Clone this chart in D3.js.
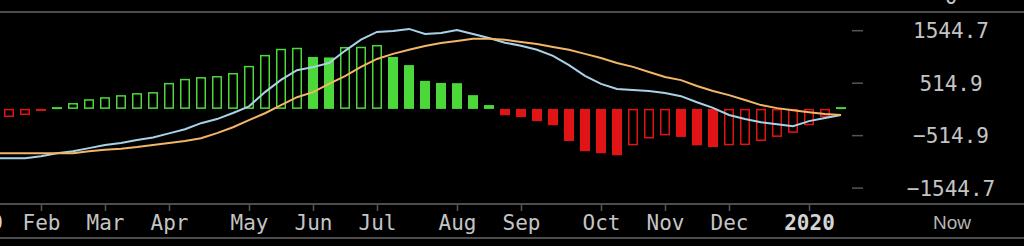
<!DOCTYPE html>
<html>
<head>
<meta charset="utf-8">
<script src="https://cdn.jsdelivr.net/npm/d3@7"></script>
<style>
  html, body { margin: 0; padding: 0; background: #000; }
  svg { display: block; }
</style>
</head>
<body>
<svg id="chart" width="1024" height="246"></svg>
<script>
// weekly bars (Friday closes), Jan 2019 -> Jan 2020
const firstWeek = new Date(2019, 0, 11);
const lastWeek = new Date(2020, 0, 17);

// histogram, one value per week
const histValues = [-200, -160, -120, -40, 35, 115, 190, 230, 270, 310, 330, 510, 590, 625, 645, 705,
  845, 1060, 1180, 1200, 1020, 1010, 1215, 1220, 1255, 1020, 860, 550, 510, 505, 270, 75,
  -125, -160, -240, -320, -630, -830, -870, -910, -715, -580, -520, -550, -715, -750, -715,
  -710, -630, -550, -470, -320, -160, 35];

// macd line (blue)
const macdValues = [-970, -970, -970, -930, -870, -830, -770, -710, -670, -610, -560, -480, -400,
  -280, -200, -80, 50, 330, 570, 760, 820, 900, 1140, 1360, 1510, 1530, 1570, 1470, 1490, 1550,
  1470, 1390, 1300, 1240, 1160, 1040, 860, 650, 490, 390, 370, 350, 310, 250, 130, 20, -120,
  -200, -260, -300, -340, -240, -180, -120];

// signal line (orange)
const signalValues = [-870, -870, -870, -870, -870, -870, -830, -800, -780, -750, -710, -670, -630,
  -575, -475, -360, -220, -85, 75, 230, 330, 490, 645, 825, 980, 1080, 1160, 1235, 1295, 1335,
  1375, 1375, 1355, 1315, 1275, 1215, 1160, 1080, 1000, 900, 825, 725, 625, 565, 450, 350, 270,
  175, 75, 15, -25, -65, -100, -120];

const yTickValues = [1544.7, 514.9, -514.9, -1544.7];
const topLabel = '0';
const nowLabel = 'Now';

const GREEN = '#4cd83a';
const RED = '#e01414';
const BLUE = '#a9d2e8';
const ORANGE = '#f2b666';
const GRID = '#4d4d4d';
const TEXT = '#c4c4c4';
const MONO = '"DejaVu Sans Mono", monospace';

let svg = d3.select('#chart');

let weeks = d3.timeFriday.range(firstWeek, d3.timeDay.offset(lastWeek, 1));
let data = weeks.map((d, i) => ({
  date: d,
  hist: histValues[i],
  macd: macdValues[i],
  signal: signalValues[i]
}));

// x is a week index, so month ticks snap onto the nearest bar
let x = d3.scaleLinear().domain([0, weeks.length - 1]).range([-7, 841]);
let y = d3.scaleLinear().domain([-1544.7, 1544.7]).range([187.6, 30.2]);
let y0 = y(0);

let weekMs = 7 * 864e5;
let months = d3.timeMonth.range(new Date(2019, 0, 1), new Date(2020, 0, 2));
let monthTicks = months.map((m) => Math.round((m - firstWeek) / weekMs));
let monthLabel = (m) => m.getMonth() === 0 ? d3.timeFormat('%Y')(m) : d3.timeFormat('%b')(m);

// frame rules
[12, 204, 238].forEach((ry) => {
  svg.append('line')
    .attr('x1', 0).attr('x2', 1024)
    .attr('y1', ry).attr('y2', ry)
    .attr('stroke', GRID)
    .attr('stroke-width', 2);
});

// histogram bars: hollow when rising, filled when falling
let bars = svg.append('g');
data.forEach((d, i) => {
  let rising = i === 0 || d.hist >= data[i - 1].hist;
  let color = d.hist >= 0 ? GREEN : RED;
  let top = Math.min(y(d.hist), y0);
  let h = Math.max(Math.abs(y(d.hist) - y0), 2);
  if (rising && h > 3) {
    bars.append('rect')
      .attr('x', x(i) - 4.25)
      .attr('y', top + 0.75)
      .attr('width', 8.5)
      .attr('height', h - 1.5)
      .attr('fill', 'none')
      .attr('stroke', color)
      .attr('stroke-width', 1.5);
  } else {
    bars.append('rect')
      .attr('x', x(i) - 5)
      .attr('y', top)
      .attr('width', 10)
      .attr('height', h)
      .attr('fill', color);
  }
});

// lines
svg.append('path')
  .datum(data)
  .attr('fill', 'none')
  .attr('stroke', BLUE)
  .attr('stroke-width', 2)
  .attr('d', d3.line()
    .x((d, i) => x(i))
    .y((d) => y(d.macd))
  );

svg.append('path')
  .datum(data)
  .attr('fill', 'none')
  .attr('stroke', ORANGE)
  .attr('stroke-width', 2)
  .attr('d', d3.line()
    .x((d, i) => x(i))
    .y((d) => y(d.signal))
  );

// right axis
let yAxis = svg.append('g')
  .attr('transform', 'translate(852, 0)')
  .call(d3.axisRight(y)
    .tickValues(yTickValues)
    .tickSize(11)
    .tickFormat(d3.format('.1f')));
yAxis.select('.domain').remove();
yAxis.selectAll('.tick line')
  .attr('stroke', '#555')
  .attr('stroke-width', 1.5);
yAxis.selectAll('.tick text')
  .attr('x', 99)
  .attr('dy', '0.36em')
  .attr('text-anchor', 'middle')
  .attr('fill', TEXT)
  .style('font-family', MONO)
  .style('font-size', '21px');

// bottom axis
let xAxis = svg.append('g')
  .attr('transform', 'translate(0, 204)')
  .call(d3.axisBottom(x)
    .tickValues(monthTicks)
    .tickSize(7)
    .tickPadding(4)
    .tickFormat((d, i) => monthLabel(months[i])));
xAxis.select('.domain').remove();
xAxis.selectAll('.tick line')
  .attr('stroke', '#555')
  .attr('stroke-width', 1.5);
xAxis.selectAll('.tick text')
  .attr('fill', (d, i) => months[i].getMonth() === 0 ? '#d4d4d4' : TEXT)
  .style('font-weight', (d, i) => months[i].getMonth() === 0 ? 'bold' : 'normal')
  .style('font-family', MONO)
  .style('font-size', '21px');

// labels on the axis column
svg.append('text')
  .attr('x', 951)
  .attr('y', 4)
  .attr('text-anchor', 'middle')
  .attr('fill', TEXT)
  .style('font-family', MONO)
  .style('font-size', '21px')
  .text(topLabel);

svg.append('text')
  .attr('x', 952)
  .attr('y', 229)
  .attr('text-anchor', 'middle')
  .attr('fill', '#b4b4b4')
  .style('font-family', '"Liberation Sans", Arial, sans-serif')
  .style('font-size', '19px')
  .text(nowLabel);
</script>
</body>
</html>
